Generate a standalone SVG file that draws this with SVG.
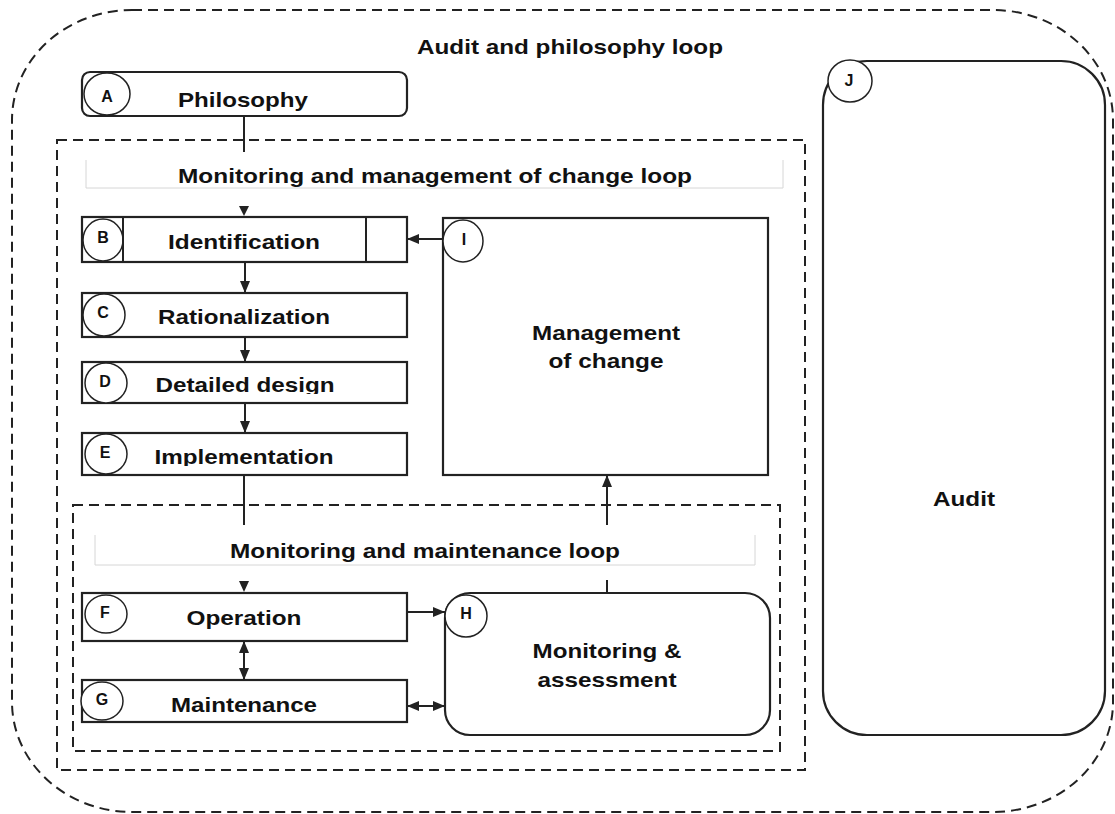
<svg xmlns="http://www.w3.org/2000/svg" width="1115" height="814" viewBox="0 0 1115 814">
  <defs>
    <style>
      .dash { fill: none; stroke: #222; stroke-width: 2; stroke-dasharray: 10 6; }
      .box { fill: #fff; stroke: #222; stroke-width: 2.2; }
      .band { fill: none; stroke: #d6d6d6; stroke-width: 1; }
      .badge { fill: #fff; stroke: #222; stroke-width: 1.5; }
      .wire { fill: none; stroke: #222; stroke-width: 2; }
      .head { fill: #222; }
      text { font-family: "Liberation Sans", Arial, Helvetica, sans-serif; font-weight: bold; fill: #111; text-anchor: middle; }
      .lbl { font-size: 21px; }
      .tag { font-size: 16px; }
    </style>
    <marker id="ah" viewBox="0 0 12 10" refX="12" refY="5" markerWidth="12" markerHeight="10" markerUnits="userSpaceOnUse" orient="auto-start-reverse">
      <path d="M0,0 L12,5 L0,10 z" fill="#222"/>
    </marker>
    <clipPath id="clipD"><rect x="82" y="362" width="326" height="32"/></clipPath>
    <clipPath id="clipE"><rect x="82" y="433" width="326" height="33"/></clipPath>
  </defs>

  <rect width="1115" height="814" fill="#fff"/>

  <!-- outer loop -->
  <g id="audit-philosophy-loop">
    <rect class="dash" x="12" y="10" width="1101" height="802" rx="120" ry="110"/>
    <text class="lbl" x="570" y="54" textLength="306" lengthAdjust="spacingAndGlyphs">Audit and philosophy loop</text>
  </g>

  <!-- middle loop -->
  <g id="change-loop">
    <rect class="dash" x="57" y="140" width="748" height="630"/>
    <path class="band" d="M86,160 V188 H783 V160"/>
    <text class="lbl" x="435" y="183" textLength="514" lengthAdjust="spacingAndGlyphs">Monitoring and management of change loop</text>
  </g>

  <!-- inner loop -->
  <g id="maintenance-loop">
    <rect class="dash" x="73" y="505" width="707" height="246"/>
    <path class="band" d="M95,535 V565 H755 V535"/>
    <text class="lbl" x="425" y="558" textLength="390" lengthAdjust="spacingAndGlyphs">Monitoring and maintenance loop</text>
  </g>

  <!-- connectors -->
  <g id="connectors">
    <path class="wire" d="M244,116 V152"/>
    <polygon class="head" points="239,206 249,206 244,216"/>
    <path class="wire" d="M245,262 V293" marker-end="url(#ah)"/>
    <path class="wire" d="M245,337 V362" marker-end="url(#ah)"/>
    <path class="wire" d="M245,403 V433" marker-end="url(#ah)"/>
    <path class="wire" d="M244,475 V525"/>
    <polygon class="head" points="239,581 249,581 244,592"/>
    <path class="wire" d="M244,641 V680" marker-start="url(#ah)" marker-end="url(#ah)"/>
    <path class="wire" d="M407,612 H445" marker-end="url(#ah)"/>
    <path class="wire" d="M407,706 H445" marker-start="url(#ah)" marker-end="url(#ah)"/>
    <path class="wire" d="M607,593 V580"/>
    <path class="wire" d="M607,525 V475" marker-end="url(#ah)"/>
    <path class="wire" d="M443,239 H407" marker-end="url(#ah)"/>
  </g>

  <g id="node-A">
    <rect class="box" x="82" y="72" width="325" height="44" rx="8"/>
    <ellipse class="badge" cx="107" cy="94" rx="23" ry="21"/>
    <text class="tag" x="107" y="102">A</text>
    <text class="lbl" x="243" y="107" textLength="130" lengthAdjust="spacingAndGlyphs">Philosophy</text>
  </g>

  <g id="node-B">
    <rect class="box" x="82" y="217" width="325" height="45"/>
    <ellipse class="badge" cx="103" cy="240" rx="20" ry="21"/>
    <path class="wire" d="M123,217 V262 M366,217 V262"/>
    <text class="tag" x="103" y="243">B</text>
    <text class="lbl" x="244" y="249" textLength="152" lengthAdjust="spacingAndGlyphs">Identification</text>
  </g>

  <g id="node-C">
    <rect class="box" x="82" y="293" width="325" height="44"/>
    <ellipse class="badge" cx="104" cy="315" rx="21" ry="21"/>
    <text class="tag" x="103" y="318">C</text>
    <text class="lbl" x="244" y="324" textLength="172" lengthAdjust="spacingAndGlyphs">Rationalization</text>
  </g>

  <g id="node-D">
    <rect class="box" x="82" y="362" width="325" height="41"/>
    <ellipse class="badge" cx="106" cy="383" rx="21" ry="20"/>
    <text class="tag" x="105" y="387">D</text>
    <text class="lbl" x="245" y="392" textLength="179" lengthAdjust="spacingAndGlyphs" clip-path="url(#clipD)">Detailed design</text>
  </g>

  <g id="node-E">
    <rect class="box" x="82" y="433" width="325" height="42"/>
    <ellipse class="badge" cx="106" cy="454" rx="21" ry="20"/>
    <text class="tag" x="105" y="458">E</text>
    <text class="lbl" x="244" y="464" textLength="179" lengthAdjust="spacingAndGlyphs" clip-path="url(#clipE)">Implementation</text>
  </g>

  <g id="node-F">
    <rect class="box" x="82" y="593" width="325" height="48"/>
    <ellipse class="badge" cx="106" cy="614" rx="21" ry="19"/>
    <text class="tag" x="105" y="618">F</text>
    <text class="lbl" x="244" y="625" textLength="115" lengthAdjust="spacingAndGlyphs">Operation</text>
  </g>

  <g id="node-G">
    <rect class="box" x="82" y="680" width="325" height="42"/>
    <ellipse class="badge" cx="102" cy="701" rx="21" ry="19"/>
    <text class="tag" x="102" y="705">G</text>
    <text class="lbl" x="244" y="712" textLength="146" lengthAdjust="spacingAndGlyphs">Maintenance</text>
  </g>

  <g id="node-H">
    <rect class="box" x="445" y="593" width="325" height="142" rx="25"/>
    <ellipse class="badge" cx="466" cy="616" rx="21" ry="21"/>
    <text class="tag" x="466" y="619">H</text>
    <text class="lbl" x="607" y="658" textLength="149" lengthAdjust="spacingAndGlyphs">Monitoring &amp;</text>
    <text class="lbl" x="607" y="687" textLength="139" lengthAdjust="spacingAndGlyphs">assessment</text>
  </g>

  <g id="node-I">
    <rect class="box" x="443" y="218" width="325" height="257"/>
    <ellipse class="badge" cx="463" cy="241" rx="20" ry="21"/>
    <text class="tag" x="464" y="245">I</text>
    <text class="lbl" x="606" y="340" textLength="148" lengthAdjust="spacingAndGlyphs">Management</text>
    <text class="lbl" x="606" y="368" textLength="115" lengthAdjust="spacingAndGlyphs">of change</text>
  </g>

  <g id="node-J">
    <rect class="box" x="823" y="61" width="282" height="674" rx="44"/>
    <ellipse class="badge" cx="850" cy="81" rx="22" ry="21"/>
    <text class="tag" x="849" y="86">J</text>
    <text class="lbl" x="964" y="506" textLength="62" lengthAdjust="spacingAndGlyphs">Audit</text>
  </g>
</svg>
